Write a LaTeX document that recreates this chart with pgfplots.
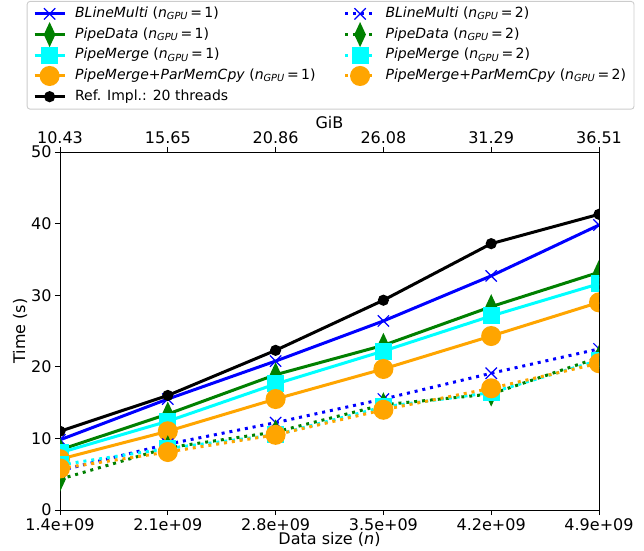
\documentclass[border=0pt]{standalone}
\usepackage{fontspec}
\setmainfont{DejaVu Sans}
\usepackage{pgfplots}
\pgfplotsset{compat=1.18}

\definecolor{mplgreen}{RGB}{0,128,0}
\definecolor{mplorange}{RGB}{255,165,0}
\definecolor{mplcyan}{RGB}{0,255,255}
\definecolor{mplblue}{RGB}{0,0,255}

\newcommand{\ngpu}[1]{(\textit{n}\textsubscript{\textit{GPU}}\,=\,#1)}

\pgfplotsset{
  solidline/.style={line width=3pt, solid},
  dotline/.style={line width=3pt, dash pattern=on 3pt off 4.9pt},
  mkx/.style={mark=x, mark size=8pt, mark options={solid, line width=1.2pt}},
  mkd/.style={mark=diamond*, mark size=9pt, mark options={solid, fill=#1, xscale=0.62}},
  mks/.style={mark=square*, mark size=7pt, mark options={solid, fill=#1}},
  mko/.style={mark=*, mark size=8.5pt, mark options={solid, fill=#1}},
  mkr/.style={mark=*, mark size=4pt, mark options={solid, fill=black}},
}

\begin{document}
\begin{tikzpicture}
\begin{axis}[
  at={(0,0)}, anchor=south west,
  scale only axis, width=539pt, height=358pt,
  xmin=1.4, xmax=4.9, ymin=0, ymax=50,
  xtick={1.4,2.1,2.8,3.5,4.2,4.9},
  xticklabels={1.4e+09,2.1e+09,2.8e+09,3.5e+09,4.2e+09,4.9e+09},
  ytick={0,10,20,30,40,50},
  tick align=outside, xtick pos=bottom, ytick pos=left,
  major tick length=5pt,
  tick style={black, line width=0.9pt},
  axis line style={line width=0.9pt},
  tick label style={font=\fontsize{16}{19}\selectfont},
  label style={font=\fontsize{16}{19}\selectfont},
  /pgf/number format/assume math mode=true,
  xlabel={Data size (\textit{n})},
  xlabel style={yshift=5pt},
  ylabel={Time (s)},
  ylabel style={yshift=-3pt},
  clip marker paths=true,
  legend image code/.code={
    \draw[mark repeat=2, mark phase=2] plot coordinates {(0pt,0pt) (15pt,0pt) (30pt,0pt)};
  },
  legend style={
    at={(0.502,1.422)}, anchor=north,
    legend columns=2,
    draw=black!20, line width=0.9pt, rounded corners=3pt,
    fill=white,
    font=\fontsize{14}{17}\selectfont,
    nodes={inner sep=2pt, text height=11pt, text depth=4pt},
    row sep=1.7pt,
    inner xsep=6pt, inner ysep=3pt,
    /tikz/every odd column/.append style={column sep=7pt},
    /tikz/every even column/.append style={column sep=26pt},
  },
  legend cell align=left,
]
% legend entries (matplotlib fills columns first)
\addlegendimage{mplblue, solidline, mkx}
\addlegendentry{\textit{BLineMulti} \ngpu{1}}
\addlegendimage{mplblue, dotline, mkx}
\addlegendentry{\textit{BLineMulti} \ngpu{2}}
\addlegendimage{mplgreen, solidline, mkd=mplgreen}
\addlegendentry{\textit{PipeData} \ngpu{1}}
\addlegendimage{mplgreen, dotline, mkd=mplgreen}
\addlegendentry{\textit{PipeData} \ngpu{2}}
\addlegendimage{mplcyan, solidline, mks=mplcyan}
\addlegendentry{\textit{PipeMerge} \ngpu{1}}
\addlegendimage{mplcyan, dotline, mks=mplcyan}
\addlegendentry{\textit{PipeMerge} \ngpu{2}}
\addlegendimage{mplorange, solidline, mko=mplorange}
\addlegendentry{\textit{PipeMerge+ParMemCpy} \ngpu{1}}
\addlegendimage{mplorange, dotline, mko=mplorange}
\addlegendentry{\textit{PipeMerge+ParMemCpy} \ngpu{2}}
\addlegendimage{black, solidline, mkr}
\addlegendentry{Ref. Impl.: 20 threads}

% n_GPU = 1
\addplot[mplblue, solidline, mkx, forget plot] coordinates {
  (1.4,9.8) (2.1,15.5) (2.8,20.8) (3.5,26.4) (4.2,32.7) (4.9,39.8)};
\addplot[mplgreen, solidline, mkd=mplgreen, forget plot] coordinates {
  (1.4,8.4) (2.1,13.4) (2.8,18.9) (3.5,23.0) (4.2,28.4) (4.9,33.2)};
\addplot[mplcyan, solidline, mks=mplcyan, forget plot] coordinates {
  (1.4,8.0) (2.1,12.4) (2.8,17.6) (3.5,22.2) (4.2,27.1) (4.9,31.6)};
\addplot[mplorange, solidline, mko=mplorange, forget plot] coordinates {
  (1.4,7.1) (2.1,11.0) (2.8,15.5) (3.5,19.7) (4.2,24.3) (4.9,29.0)};
\addplot[black, solidline, mkr, forget plot] coordinates {
  (1.4,11.0) (2.1,16.0) (2.8,22.3) (3.5,29.3) (4.2,37.2) (4.9,41.3)};
% n_GPU = 2
\addplot[mplblue, dotline, mkx, forget plot] coordinates {
  (1.4,5.5) (2.1,9.2) (2.8,12.2) (3.5,15.5) (4.2,19.1) (4.9,22.5)};
\addplot[mplgreen, dotline, mkd=mplgreen, forget plot] coordinates {
  (1.4,4.3) (2.1,8.7) (2.8,10.9) (3.5,14.7) (4.2,16.2) (4.9,21.3)};
\addplot[mplcyan, dotline, mks=mplcyan, forget plot] coordinates {
  (1.4,6.3) (2.1,8.6) (2.8,10.5) (3.5,14.4) (4.2,16.4) (4.9,20.9)};
\addplot[mplorange, dotline, mko=mplorange, forget plot] coordinates {
  (1.4,5.8) (2.1,8.1) (2.8,10.5) (3.5,14.0) (4.2,17.0) (4.9,20.5)};
\end{axis}

% top axis: data size in GiB
\begin{axis}[
  at={(0,0)}, anchor=south west,
  scale only axis, width=539pt, height=358pt,
  xmin=1.4, xmax=4.9, ymin=0, ymax=1,
  axis x line*=top, axis y line=none,
  xtick={1.4,2.1,2.8,3.5,4.2,4.9},
  xticklabels={10.43,15.65,20.86,26.08,31.29,36.51},
  tick align=outside,
  major tick length=5pt,
  tick style={black, line width=0.9pt},
  axis line style={line width=0.9pt},
  tick label style={font=\fontsize{16}{19}\selectfont},
  label style={font=\fontsize{16}{19}\selectfont},
  xlabel={GiB},
  xlabel style={yshift=-4pt},
]
\end{axis}
\pgfresetboundingbox
\useasboundingbox (-60pt,-40pt) rectangle (584pt,510pt);
\end{tikzpicture}
\end{document}
